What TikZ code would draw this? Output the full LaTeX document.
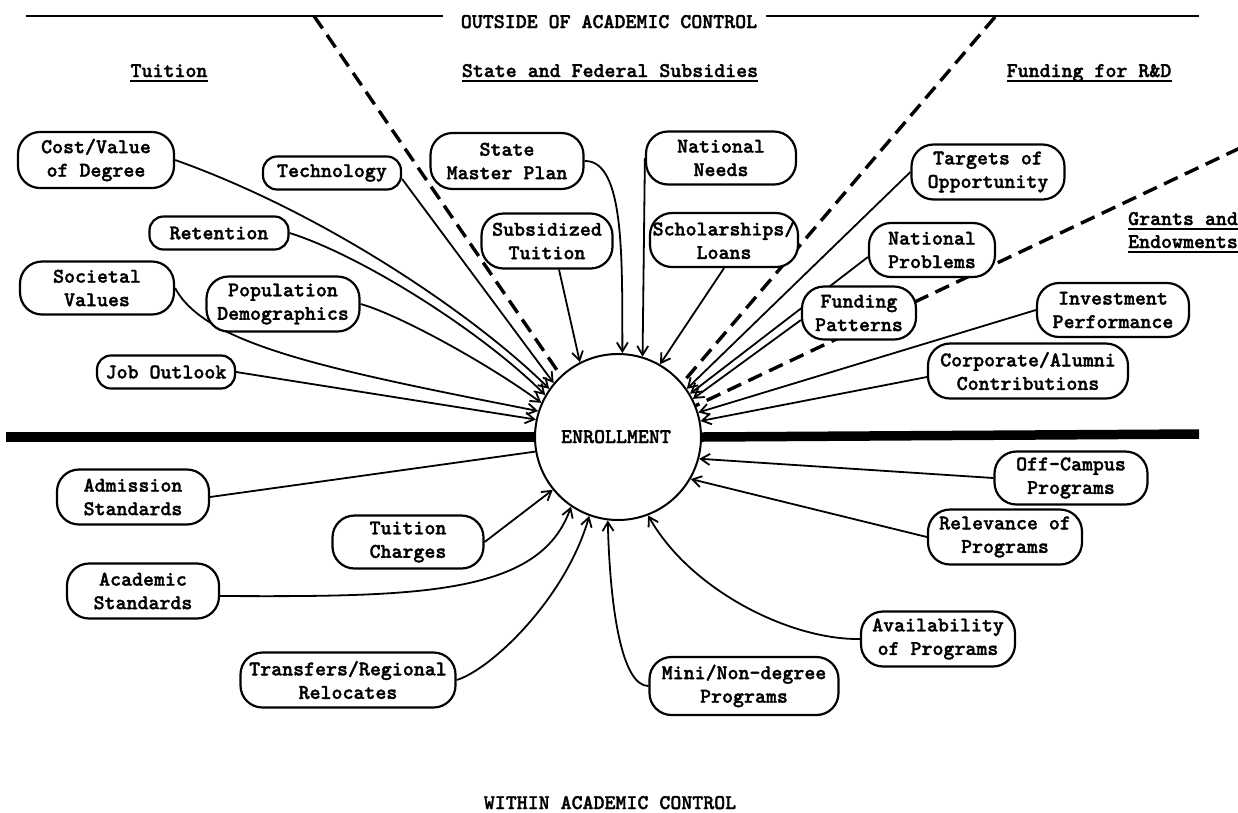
\documentclass[tikz,border=0pt]{standalone}
\usepackage{fontspec}
\newfontfamily\tw{lmmonolt10-bold.otf}[FakeBold=1.5]
\usetikzlibrary{arrows.meta}
\pgfdeclarelayer{bg}
\pgfsetlayers{bg,main}
\tikzset{
  base/.style={font=\tw\fontsize{20.9}{23.5}\selectfont},
  bx/.style 2 args={draw, line width=2.2pt, rounded corners=22pt, fill=white,
    align=center, inner sep=0pt, minimum width=#1pt, minimum height=#2pt, base},
  bxs/.style 2 args={bx={#1}{#2}, rounded corners=14pt},
  cn/.style={line width=1.8pt},
  ar/.style={cn, -{Straight Barb[length=9pt,width=11pt]}},
  dsh/.style={line width=3.4pt, dash pattern=on 15pt off 8pt},
  lbl/.style={base, inner sep=0pt, anchor=base},
  ul/.style={line width=1.8pt},
}
\begin{document}
\begin{tikzpicture}[x=1pt,y=-1pt]
\useasboundingbox (0,0) rectangle (1238,812);

% central circle
\node[draw, circle, line width=2pt, fill=white, minimum size=166pt, inner sep=0pt] (enr) at (618,437) {};
\node[lbl] (enrt) at (616,443) {ENROLLMENT};

% headings
\node[lbl] (outside) at (609,28) {OUTSIDE OF ACADEMIC CONTROL};
\node[lbl] (within) at (610,809) {WITHIN ACADEMIC CONTROL};
\node[lbl] (htu) at (169,77) {Tuition};
\node[lbl] (hsf) at (610,77) {State and Federal Subsidies};
\node[lbl] (hrd) at (1089,77) {Funding for R\&D};
\node[lbl] (hg1) at (1183,225) {Grants and};
\node[lbl] (hg2) at (1183,248) {Endowments};
\foreach \n in {htu,hsf,hrd,hg1,hg2}
  \draw[ul] ([yshift=-4pt]\n.base west) -- ([yshift=-4pt]\n.base east);

% factors outside academic control
\node[bx={156}{56}] (cost) at (96,160) {Cost/Value\\of Degree};
\node[bxs={138}{33}] (tech) at (332,173) {Technology};
\node[bx={153}{56}] (smp) at (507,161) {State\\Master Plan};
\node[bx={150}{53}] (nn) at (721,158) {National\\Needs};
\node[bx={153}{55}] (tar) at (988,172) {Targets of\\Opportunity};
\node[bxs={139}{33}] (ret) at (219,233) {Retention};
\node[bx={131}{55}] (sub) at (547,241) {Subsidized\\Tuition};
\node[bx={148}{54}] (sch) at (724,240) {Scholarships/\\Loans};
\node[bx={126}{54}] (np) at (932,250) {National\\Problems};
\node[bx={154}{53}] (soc) at (97,288) {Societal\\Values};
\node[bx={153}{55}] (pop) at (283,304) {Population\\Demographics};
\node[bx={114}{53}] (fp) at (859,313) {Funding\\Patterns};
\node[bx={152}{54}] (inv) at (1113,310) {Investment\\Performance};
\node[bx={200}{55}] (corp) at (1028,371) {Corporate/Alumni\\Contributions};
\node[bxs={138}{33}] (job) at (166,372) {Job Outlook};

% factors within academic control
\node[bx={152}{55}] (adm) at (133,497) {Admission\\Standards};
\node[bx={151}{53}] (tc) at (408,542) {Tuition\\Charges};
\node[bx={152}{55}] (ac) at (143,591) {Academic\\Standards};
\node[bx={215}{55}] (tr) at (348,680) {Transfers/Regional\\Relocates};
\node[bx={153}{53}] (oc) at (1071,478) {Off-Campus\\Programs};
\node[bx={154}{55}] (rel) at (1005,537) {Relevance of\\Programs};
\node[bx={154}{55}] (av) at (938,639) {Availability\\of Programs};
\node[bx={189}{58}] (mini) at (744,686) {Mini/Non-degree\\Programs};

\begin{pgfonlayer}{bg}
\fill[white] (0,0) rectangle (1238,812);
% top boundary
\coordinate (tlA) at (26,16);
\coordinate (tlB) at (443,16);
\coordinate (tlC) at (766,16);
\coordinate (tlD) at (1199,16);
\draw[line width=2.4pt] (tlA) -- (tlB);
\draw[line width=2.4pt] (tlC) -- (tlD);
% dividing line between the two domains
\coordinate (hL) at (6,437);
\coordinate (hR) at (1199,434);
\draw[line width=9.5pt] (hL) -- (enr.west);
\draw[line width=9.5pt] (enr.east) -- (hR);
% sector boundaries
\coordinate (dA) at (314,16);
\coordinate (dB) at (995,17);
\coordinate (dC) at (1240,148);
\draw[dsh] (dA) -- (enr.133);
\draw[dsh] (dB) -- (enr.40);
\draw[dsh] (dC) -- (enr.22);

% influences from outside
\draw[ar] (cost.east) .. controls (330,215) and (480,320) .. (enr.145);
\draw[ar] ([yshift=-6pt]tech.east) -- (enr.140);
\draw[ar] (ret.east) .. controls (360,255) and (480,330) .. (enr.150);
\draw[ar] (pop.east) .. controls (400,315) and (490,365) .. (enr.156);
\draw[ar] (soc.east) .. controls (205,345) and (330,370) .. (enr.162);
\draw[ar] (job.east) -- (enr.168);
\draw[ar] (smp.east) .. controls (625,160) and (622,260) .. (enr.87);
\draw[ar] (nn.west) -- (enr.73);
\draw[ar] ([xshift=12pt]sub.south) -- (enr.117);
\draw[ar] (sch.south) -- (enr.60);
\draw[ar] (tar.west) -- (enr.35);
\draw[ar] ([yshift=-7pt]np.west) -- (enr.31);
\draw[ar] ([yshift=-7pt]fp.west) -- (enr.27);
\draw[ar] (inv.west) -- (enr.17);
\draw[ar] ([yshift=-6pt]corp.west) -- (enr.11);

% influences from within
\draw[cn] (adm.east) -- (enr.190);
\draw[ar] (tc.east) -- (enr.219);
\draw[ar] ([yshift=-5pt]ac.east) .. controls (420,597) and (540,595) .. (enr.236);
\draw[ar] (tr.east) .. controls (490,670) and (565,600) .. (enr.250);
\draw[ar] (mini.west) .. controls (622,686) and (610,610) .. (enr.263);
\draw[ar] (av.west) .. controls (790,640) and (690,590) .. (enr.291);
\draw[ar] (oc.west) -- (enr.-15);
\draw[ar] (rel.west) -- (enr.-30);
\end{pgfonlayer}
\end{tikzpicture}
\end{document}
